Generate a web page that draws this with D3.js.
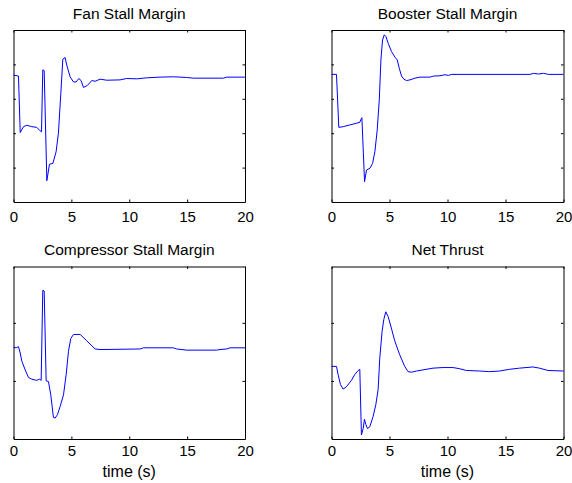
<!DOCTYPE html>
<html>
<head>
<meta charset="utf-8">
<script src="https://cdn.jsdelivr.net/npm/d3@7"></script>
<style>
  body { margin: 0; background: #fff; }
  text { font-family: "Liberation Sans", Arial, sans-serif; fill: #000; }
</style>
</head>
<body>
<div class="chart"></div>
<script>
// Data (time in s, values in arbitrary units)
var xTicks = [0, 5, 10, 15, 20];

var fanTime = [0, 0.43, 0.58, 0.86, 1.15, 1.58, 2.01, 2.30, 2.42, 2.53, 2.65, 2.88, 3.11, 3.40, 3.68, 3.88,
  4.09, 4.26, 4.46, 4.60, 4.89, 5.18, 5.41, 5.64, 5.84, 6.04, 6.39, 6.76, 7.05, 7.48, 8.06, 9.21, 9.78,
  10.65, 11.51, 12.66, 13.81, 14.96, 15.54, 18.13, 18.42, 20];
var fanMargin = [2.69, 2.66, 1.02, 1.19, 1.23, 1.19, 1.17, 1.07, 1.04, 2.84, 2.82, -0.38, 0.10, 0.12, 0.46, 1.00,
  2.16, 3.15, 3.20, 2.98, 2.64, 2.49, 2.49, 2.59, 2.53, 2.33, 2.39, 2.53, 2.51, 2.57, 2.54, 2.55, 2.59,
  2.58, 2.61, 2.63, 2.64, 2.62, 2.60, 2.60, 2.63, 2.63];

var boosterTime = [0, 0.43, 0.63, 1.01, 1.58, 2.16, 2.45, 2.53, 2.62, 2.85, 3.02, 3.31, 3.54, 3.74, 3.94,
  4.12, 4.26, 4.40, 4.55, 4.69, 4.89, 5.18, 5.47, 5.67, 5.84, 6.04, 6.24, 6.47, 6.76, 7.19, 7.63, 8.49,
  8.78, 9.35, 9.78, 10.07, 10.36, 17.12, 17.41, 17.84, 18.27, 18.71, 20];
var boosterMargin = [2.71, 2.71, 1.17, 1.19, 1.24, 1.29, 1.32, 1.40, 1.45, -0.41, -0.07, -0.02, 0.12, 0.46, 1.09,
  1.97, 3.13, 3.71, 3.86, 3.81, 3.61, 3.37, 3.21, 3.13, 2.89, 2.66, 2.57, 2.53, 2.55, 2.60, 2.63, 2.63,
  2.66, 2.67, 2.70, 2.68, 2.71, 2.71, 2.74, 2.72, 2.74, 2.71, 2.71];

var compTime = [0, 0.23, 0.43, 0.58, 0.72, 1.01, 1.29, 1.58, 2.01, 2.24, 2.39, 2.53, 2.65, 2.82, 3.02, 3.22,
  3.45, 3.60, 3.80, 4.03, 4.32, 4.55, 4.75, 4.95, 5.18, 5.76, 6.33, 7.05, 7.48, 10.94, 11.22, 13.81,
  14.10, 14.96, 17.55, 17.84, 18.42, 18.71, 20];
var compMargin = [1.58, 1.57, 1.59, 1.48, 1.34, 1.19, 1.06, 1.03, 1.01, 1.03, 1.01, 2.56, 2.55, 1.00, 0.99, 0.76,
  0.37, 0.36, 0.42, 0.56, 0.76, 1.11, 1.51, 1.73, 1.80, 1.80, 1.69, 1.55, 1.54, 1.55, 1.57, 1.57,
  1.55, 1.53, 1.53, 1.54, 1.55, 1.57, 1.57];

var thrustTime = [0, 0.43, 0.57, 0.77, 1.00, 1.29, 1.72, 2.01, 2.30, 2.44, 2.58, 2.73, 2.84, 2.96, 3.10, 3.30,
  3.59, 3.82, 4.02, 4.16, 4.36, 4.51, 4.68, 4.88, 5.16, 5.45, 5.88, 6.31, 6.60, 6.89, 7.32, 7.89, 8.75,
  9.61, 10.47, 11.05, 11.62, 12.77, 13.63, 14.49, 15.35, 16.21, 17.36, 17.93, 18.65, 20];
var netThrust = [1.25, 1.25, 1.11, 0.94, 0.86, 0.90, 1.01, 1.11, 1.18, 1.20, 0.07, 0.18, 0.34, 0.25, 0.18, 0.21,
  0.39, 0.59, 0.85, 1.39, 1.85, 2.06, 2.19, 2.11, 1.91, 1.69, 1.45, 1.25, 1.16, 1.15, 1.17, 1.19, 1.22,
  1.23, 1.23, 1.21, 1.18, 1.17, 1.16, 1.17, 1.20, 1.22, 1.24, 1.22, 1.18, 1.17];

var svgWidth = 572;
var svgHeight = 483;

var svg = d3
  .select(".chart")
  .append("svg")
  .attr("width", svgWidth)
  .attr("height", svgHeight);

// one entry per subplot: box position, y range and the data
var panels = [
  { title: "Fan Stall Margin", x: 13.5, y: 30, w: 231.5, h: 172, yDomain: [-1, 4], yTicks: [0, 1, 2, 3],
    t: fanTime, v: fanMargin, xlabel: false, pad: 9 },
  { title: "Booster Stall Margin", x: 331.5, y: 30, w: 232, h: 172, yDomain: [-1, 4], yTicks: [0, 1, 2, 3],
    t: boosterTime, v: boosterMargin, xlabel: false, pad: 9 },
  { title: "Compressor Stall Margin", x: 13.5, y: 266.5, w: 231.5, h: 172.5, yDomain: [0, 2.97], yTicks: [1, 2],
    t: compTime, v: compMargin, xlabel: true, pad: 6 },
  { title: "Net Thrust", x: 331.5, y: 266.5, w: 232, h: 172.5, yDomain: [0, 2.97], yTicks: [1, 2],
    t: thrustTime, v: netThrust, xlabel: true, pad: 6 }
];
//__________________________________________________________________________________
panels.forEach(function(p) {
  var g = svg.append("g")
    .attr("transform", `translate(${p.x}, ${p.y})`);

  var xLinearScale = d3.scaleLinear().domain([0, 20]).range([0, p.w]);
  var yLinearScale = d3.scaleLinear().domain(p.yDomain).range([p.h, 0]);

  // inward ticks on all four sides, labels only on the bottom
  var bottomAxis = d3.axisBottom(xLinearScale).tickValues(xTicks).tickSize(-2.5).tickPadding(p.pad).tickSizeOuter(0);
  var topAxis = d3.axisTop(xLinearScale).tickValues(xTicks).tickSize(-2.5).tickFormat("").tickSizeOuter(0);
  var leftAxis = d3.axisLeft(yLinearScale).tickValues(p.yTicks).tickSize(-2.5).tickFormat("").tickSizeOuter(0);
  var rightAxis = d3.axisRight(yLinearScale).tickValues(p.yTicks).tickSize(-2.5).tickFormat("").tickSizeOuter(0);

  g.append("g").attr("transform", `translate(0, ${p.h})`).call(bottomAxis)
    .selectAll("text").style("font-size", "15px");
  g.append("g").call(topAxis);
  g.append("g").call(leftAxis);
  g.append("g").attr("transform", `translate(${p.w}, 0)`).call(rightAxis);

  g.selectAll(".domain").attr("stroke", "#000");
  g.selectAll(".tick line").attr("stroke", "#000");

  // line
  var line = d3.line()
    .x(function(d, i) { return xLinearScale(p.t[i]); })
    .y(function(d) { return yLinearScale(d); });

  g.append("path")
    .datum(p.v)
    .attr("fill", "none")
    .attr("stroke", "#0000ff")
    .attr("stroke-width", 1)
    .attr("d", line);

  // title
  g.append("text")
    .attr("x", p.w / 2)
    .attr("y", -11.5)
    .attr("text-anchor", "middle")
    .style("font-size", "15.5px")
    .text(p.title);

  if (p.xlabel) {
    g.append("text")
      .attr("x", p.w / 2)
      .attr("y", p.h + 38)
      .attr("text-anchor", "middle")
      .style("font-size", "16px")
      .text("time (s)");
  }
});
</script>
</body>
</html>
